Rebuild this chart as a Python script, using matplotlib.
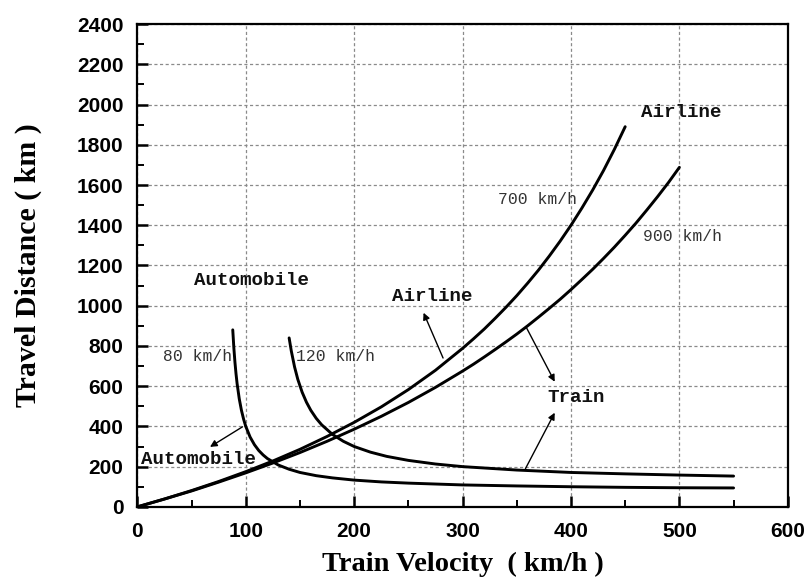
import matplotlib
matplotlib.use("Agg")
import matplotlib.pyplot as plt
from matplotlib.ticker import MultipleLocator

# Break-even curves: train vs airline (700 km/h, 900 km/h)
v_air700 = [0, 25, 50, 75, 100, 125, 150, 175, 200, 225, 250, 275, 300, 310, 320, 330, 340, 350,
            360, 370, 380, 390, 400, 410, 420, 430, 440, 450]
d_air700 = [0, 39, 81, 126, 175, 228, 286, 350, 420, 497, 583, 679, 788, 835, 884, 937, 992, 1050,
            1112, 1177, 1247, 1321, 1400, 1485, 1575, 1672, 1777, 1890]

v_air900 = [0, 25, 50, 75, 100, 125, 150, 175, 200, 225, 250, 275, 300, 310, 320, 330, 340, 350,
            360, 370, 380, 390, 400, 410, 420, 430, 440, 450, 460, 470, 480, 490, 500]
d_air900 = [0, 39, 79, 123, 169, 218, 270, 326, 386, 450, 519, 594, 675, 709, 745, 782, 820, 859,
            900, 943, 987, 1032, 1080, 1130, 1181, 1235, 1291, 1350, 1411, 1476, 1543, 1613, 1688]

# Break-even curves: train vs automobile (80 km/h, 120 km/h)
v_car80 = [88, 89, 90, 91, 92, 94, 96, 98, 100, 104, 108, 112, 116, 120, 130, 140, 150, 165, 180,
           200, 225, 250, 300, 350, 400, 450, 500, 550]
d_car80 = [880, 791, 720, 662, 613, 537, 480, 436, 400, 347, 309, 280, 258, 240, 208, 187, 171, 155, 144,
           133, 124, 118, 109, 104, 100, 97, 95, 94]

v_car120 = [140, 142, 145, 148, 152, 156, 160, 165, 170, 180, 190, 200, 215, 230, 250, 275, 300, 350,
            400, 450, 500, 550]
d_car120 = [840, 775, 696, 634, 570, 520, 480, 440, 408, 360, 326, 300, 272, 251, 231, 213, 200, 183,
            171, 164, 158, 153]

x_ticks = [0, 100, 200, 300, 400, 500, 600]
y_ticks = [0, 200, 400, 600, 800, 1000, 1200, 1400, 1600, 1800, 2000, 2200, 2400]

fig = plt.figure(figsize=(8.08, 5.88), dpi=100)
ax = fig.add_axes([0.170, 0.138, 0.805, 0.821])

lw = 2.1
for vx, dy in [(v_air700, d_air700), (v_air900, d_air900), (v_car80, d_car80), (v_car120, d_car120)]:
    ax.plot(vx, dy, color='black', lw=lw, solid_capstyle='round', solid_joinstyle='round', zorder=3)

ax.set_xlim(0, 600)
ax.set_ylim(0, 2400)
ax.set_xticks(x_ticks)
ax.set_yticks(y_ticks)
ax.xaxis.set_minor_locator(MultipleLocator(50))
ax.yaxis.set_minor_locator(MultipleLocator(100))

ax.grid(True, which='major', color='#8a8a8a', linestyle=(0, (2.5, 2)), lw=0.9)
ax.set_axisbelow(True)

ax.tick_params(which='both', direction='in', top=False, right=False)
ax.tick_params(which='major', length=8, width=1.8)
ax.tick_params(which='minor', length=5, width=1.4)
for s in ax.spines.values():
    s.set_linewidth(1.6)

for lab in ax.get_xticklabels() + ax.get_yticklabels():
    lab.set_fontfamily('Liberation Sans')
    lab.set_fontweight('bold')
    lab.set_fontsize(15)
ax.tick_params(axis='x', pad=11)
ax.tick_params(axis='y', pad=10)

ax.set_xlabel('Train Velocity  ( km/h )', fontfamily='Liberation Serif', fontweight='bold',
              fontsize=20.5, labelpad=8)
ax.set_ylabel('Travel Distance ( km )', fontfamily='Liberation Serif', fontweight='bold',
              fontsize=21.5, labelpad=25)

mono = 'Liberation Mono'
bold_kw = dict(fontfamily=mono, fontweight='bold', fontsize=13.8, ha='left', va='center', color='#111111')
light_kw = dict(fontfamily=mono, fontweight='normal', fontsize=11.8, ha='left', va='center', color='#333333')

ax.text(465, 1960, 'Airline', **bold_kw)
ax.text(333, 1527, '700 km/h', **light_kw)
ax.text(466, 1343, '900 km/h', **light_kw)
ax.text(235, 1045, 'Airline', **bold_kw)
ax.text(52, 1124, 'Automobile', **bold_kw)
ax.text(24, 746, '80 km/h', **light_kw)
ax.text(146, 746, '120 km/h', **light_kw)
ax.text(3, 234, 'Automobile', **bold_kw)
ax.text(378, 542, 'Train', **bold_kw)

arrow = dict(arrowstyle='-|>', lw=1.0, color='black', mutation_scale=10, shrinkA=0, shrinkB=0)
ax.annotate('', xy=(264, 965), xytext=(282, 740), arrowprops=arrow)
ax.annotate('', xy=(385, 622), xytext=(359, 890), arrowprops=arrow)
ax.annotate('', xy=(385, 468), xytext=(358, 190), arrowprops=arrow)
ax.annotate('', xy=(67, 298), xytext=(97, 398), arrowprops=arrow)

fig.savefig('out.png', dpi=100)
